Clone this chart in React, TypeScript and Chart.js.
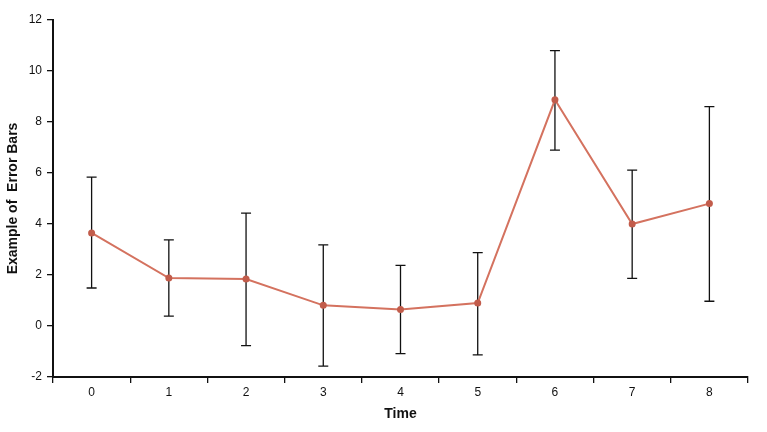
import React, { useRef, useEffect } from 'react';
import { Chart, registerables } from 'chart.js';

Chart.register(...registerables);

const categories = ['0', '1', '2', '3', '4', '5', '6', '7', '8'];
const means = [3.65, 1.88, 1.84, 0.81, 0.65, 0.9, 8.87, 4.0, 4.8];
const errHigh = [5.84, 3.38, 4.43, 3.18, 2.38, 2.88, 10.8, 6.11, 8.6];
const errLow = [1.49, 0.39, -0.77, -1.57, -1.08, -1.13, 6.9, 1.87, 0.97];

const FONT = 'Arial, "Liberation Sans", sans-serif';
const INK = '#111';

// draws the vertical error bars with caps, under the line and points
const errorBars = {
  id: 'errorBars',
  beforeDatasetsDraw(chart: any) {
    const { ctx, scales } = chart;
    const x = scales.x;
    const y = scales.y;
    ctx.save();
    ctx.strokeStyle = INK;
    ctx.lineWidth = 1.3;
    categories.forEach((_, i) => {
      const px = x.getPixelForValue(i);
      const top = y.getPixelForValue(errHigh[i]);
      const bot = y.getPixelForValue(errLow[i]);
      ctx.beginPath();
      ctx.moveTo(px, top);
      ctx.lineTo(px, bot);
      ctx.moveTo(px - 5, top);
      ctx.lineTo(px + 5, top);
      ctx.moveTo(px - 5, bot);
      ctx.lineTo(px + 5, bot);
      ctx.stroke();
    });
    ctx.restore();
  },
};

export default function App() {
  const ref = useRef<HTMLCanvasElement>(null);

  useEffect(() => {
    document.body.style.margin = '0';
    if (!ref.current) return;
    const chart = new Chart(ref.current, {
      type: 'line',
      data: {
        labels: categories,
        datasets: [
          {
            data: means,
            borderColor: '#d4725f',
            borderWidth: 2,
            pointRadius: 3.5,
            pointBackgroundColor: '#c25c4b',
            pointBorderColor: '#c25c4b',
            pointBorderWidth: 0,
            tension: 0,
          },
        ],
      },
      options: {
        animation: false,
        responsive: false,
        devicePixelRatio: 1,
        layout: { padding: { top: 20, right: 19, left: 0, bottom: 0 } },
        plugins: { legend: { display: false }, tooltip: { enabled: false } },
        scales: {
          x: {
            type: 'category',
            offset: true,
            afterFit: (s: any) => { s.height = 55; },
            grid: { offset: true, drawOnChartArea: false, drawTicks: true, tickLength: 6, color: INK, lineWidth: 1.3 },
            border: { display: true, color: INK, width: 2 },
            ticks: { color: INK, font: { family: FONT, size: 12 }, padding: 2, maxRotation: 0 },
            title: { display: true, text: 'Time', color: INK, font: { family: FONT, size: 14, weight: 'bold' }, padding: { top: 0, bottom: 9 } },
          },
          y: {
            min: -2,
            max: 12,
            afterFit: (s: any) => { s.width = 53; },
            grid: { drawOnChartArea: false, drawTicks: true, tickLength: 6, color: INK, lineWidth: 1.3 },
            border: { display: true, color: INK, width: 2 },
            ticks: { stepSize: 2, color: INK, font: { family: FONT, size: 12 }, padding: 5 },
            title: { display: true, text: 'Example of  Error Bars', color: INK, font: { family: FONT, size: 14, weight: 'bold' }, padding: { top: 5, bottom: 0 } },
          },
        },
      },
      plugins: [errorBars],
    });
    return () => chart.destroy();
  }, []);

  return (
    <div style={{ width: 767, height: 432, background: '#fff' }}>
      <canvas ref={ref} width={767} height={432} style={{ display: 'block' }} />
    </div>
  );
}
